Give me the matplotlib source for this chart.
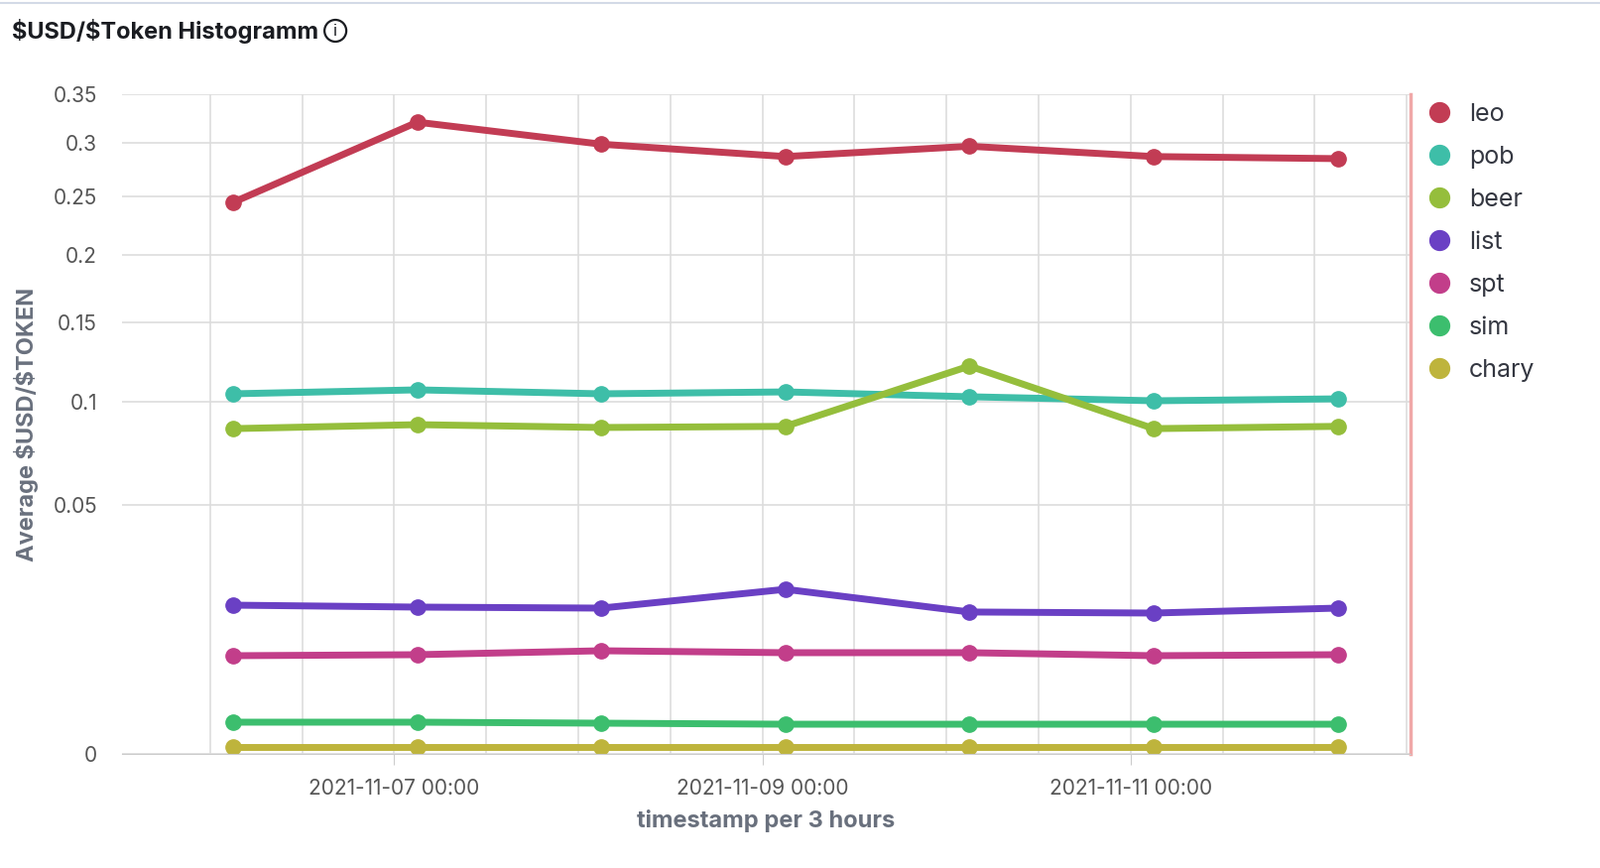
import matplotlib
matplotlib.use("Agg")
import matplotlib.pyplot as plt
import matplotlib.dates as mdates
import numpy as np
import datetime as dt

plt.rcParams["font.family"] = "Inter"
plt.rcParams["text.parse_math"] = False

dates = ["2021-11-06 03:00","2021-11-07 03:00","2021-11-08 03:00","2021-11-09 03:00",
         "2021-11-10 03:00","2021-11-11 03:00","2021-11-12 03:00"]
leo = [0.2447,0.321,0.299,0.287,0.297,0.287,0.285]
pob = [0.1043,0.1066,0.1043,0.1054,0.1026,0.1003,0.1014]
beer = [0.0851,0.0872,0.0857,0.0863,0.121,0.0851,0.0863]
list_ = [0.0178,0.01734,0.0171,0.0218,0.0162,0.01596,0.0171]
spt = [0.00776,0.00792,0.00856,0.00824,0.00824,0.00776,0.00792]
sim = [0.00081,0.00081,0.00076,0.00071,0.00071,0.00071,0.00071]
chary = [0.00004]*7
names = ["leo","pob","beer","list","spt","sim","chary"]
series = [leo,pob,beer,list_,spt,sim,chary]
colors = ["#C23C54","#3EBEA8","#95BE3C","#6A40C4","#C23E8A","#3CBE6E","#BEB43C"]

x = [dt.datetime.strptime(d,"%Y-%m-%d %H:%M") for d in dates]

fig = plt.figure(figsize=(16.13,8.75), dpi=100)
ax = fig.add_axes([123/1613, 1-760/875, (1422-123)/1613, (760-95)/875])
ax.set_yscale("function", functions=(lambda v: np.sqrt(np.clip(v,0,None)), lambda v: v**2))
for n,s,c in zip(names,series,colors):
    ax.plot(x,s,color=c,lw=5,marker="o",ms=11,label=n,solid_capstyle="round")
ax.set_ylim(0,0.35)
ax.set_yticks([0,0.05,0.1,0.15,0.2,0.25,0.3,0.35])
ax.set_yticklabels(["0","0.05","0.1","0.15","0.2","0.25","0.3","0.35"])
ax.set_xlim(dt.datetime(2021,11,5,12,30), dt.datetime(2021,11,12,12,30))
ax.xaxis.set_major_locator(mdates.DayLocator(bymonthday=[7,9,11]))
ax.xaxis.set_major_formatter(mdates.DateFormatter("%Y-%m-%d %H:%M"))
ax.xaxis.set_minor_locator(mdates.HourLocator(byhour=[0,12]))
ax.grid(True, which="both", axis="x", color="#dddddd", lw=1.2)
ax.grid(True, which="major", axis="y", color="#dddddd", lw=1.2)
ax.set_axisbelow(True)
for sp in ["top","left"]:
    ax.spines[sp].set_visible(False)
ax.spines["bottom"].set_color("#cccccc")
ax.spines["right"].set_color("#f0a8a8"); ax.spines["right"].set_linewidth(2.5)
ax.tick_params(axis="both", labelsize=15, colors="#555555", length=0)
ax.tick_params(axis="x", which="major", length=8, color="#cccccc", pad=10)
ax.tick_params(axis="x", which="minor", length=0)
ax.tick_params(axis="y", pad=18)
ax.set_xlabel("timestamp per 3 hours", fontsize=17, fontweight="bold", color="#69707d", labelpad=8)
ax.set_ylabel("Average $USD/$TOKEN", fontsize=17, fontweight="bold", color="#69707d", labelpad=10)
ax.legend(loc="upper left", bbox_to_anchor=(1.005,1.02), frameon=False, fontsize=18,
          handlelength=0, markerscale=1.3, labelspacing=0.8, handletextpad=1.2,
          labelcolor="#343741")
for h in ax.get_legend().legend_handles:
    h.set_linewidth(0)
t = fig.text(12/1613, 1-31/875, "$USD/$Token Histogramm", fontsize=17, fontweight="bold",
             va="center", color="#1a1c21")
fig.canvas.draw()
bb = t.get_window_extent()
cx = (bb.x1 + 17) / 1613
cy = 1-31/875
fig.add_artist(matplotlib.patches.Ellipse((cx, cy), 22/1613, 22/875, fill=False,
                                          ec="#1a1c21", lw=1.6, transform=fig.transFigure))
fig.text(cx, cy, "i", fontsize=12, ha="center", va="center", color="#1a1c21")
fig.add_artist(plt.Line2D([0,1],[1-3/875,1-3/875], color="#d3dae6", lw=1.5))
fig.savefig("out.png", dpi=100)
